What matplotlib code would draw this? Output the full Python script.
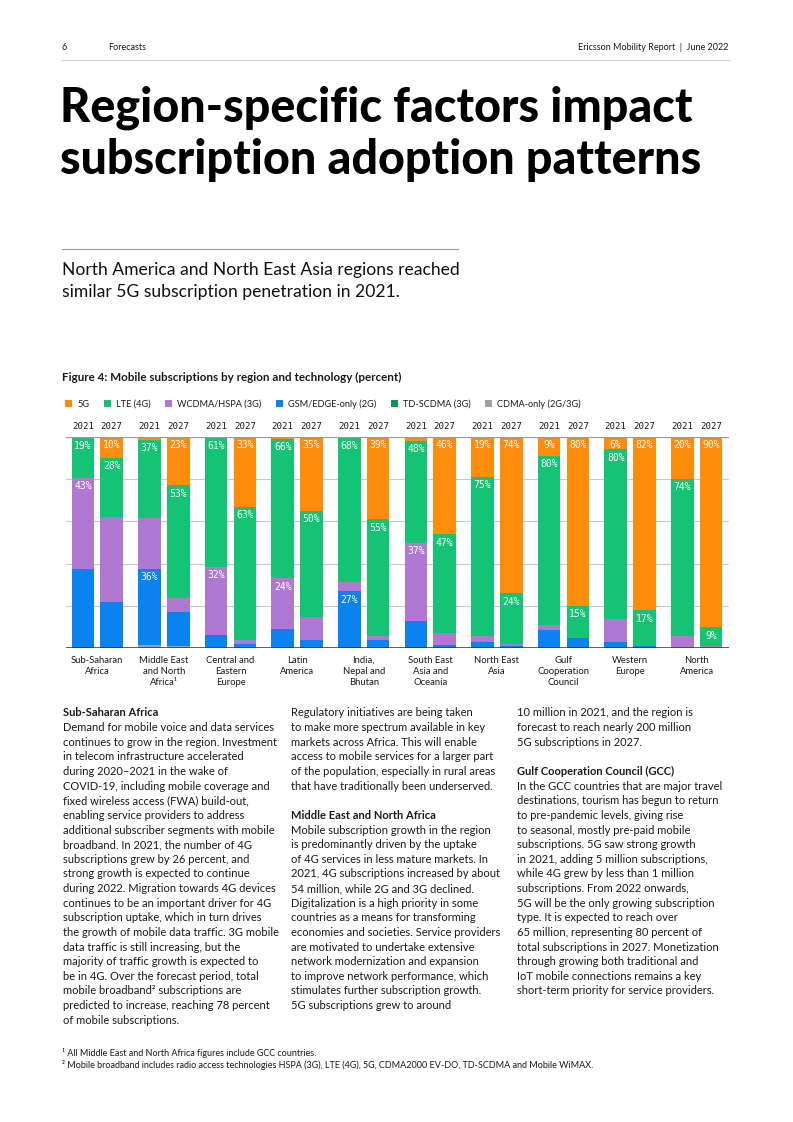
import matplotlib
matplotlib.use("Agg")
import matplotlib.pyplot as plt
from matplotlib.transforms import blended_transform_factory
import numpy as np

# ---------------- data ----------------
regions = ["Sub-Saharan\nAfrica", "Middle East\nand North\nAfrica¹", "Central and\nEastern\nEurope",
           "Latin\nAmerica", "India,\nNepal and\nBhutan", "South East\nAsia and\nOceania",
           "North East\nAsia", "Gulf\nCooperation\nCouncil", "Western\nEurope", "North\nAmerica"]
years = ["2021", "2027"]
series = ["CDMA-only (2G/3G)", "GSM/EDGE-only (2G)", "WCDMA/HSPA (3G)", "TD-SCDMA (3G)", "LTE (4G)", "5G"]
legend_order = ["5G", "LTE (4G)", "WCDMA/HSPA (3G)", "GSM/EDGE-only (2G)", "TD-SCDMA (3G)", "CDMA-only (2G/3G)"]
colors = {"5G": "#FF8C0A", "LTE (4G)": "#14C373", "WCDMA/HSPA (3G)": "#AF78D2",
          "GSM/EDGE-only (2G)": "#0A82F0", "TD-SCDMA (3G)": "#0A9650", "CDMA-only (2G/3G)": "#A0A0A0"}

# percent values, bars ordered region by region: 2021, 2027
cdma  = [0, 0,   1.5, 1,   0.5, 0,  0, 0,   0, 0,    0, 0,    0, 0,   0, 0,    0, 0,   0, 0.5]
gsm   = [37.5, 22, 36, 16,  6, 2,   9, 4,   27, 4,   13, 1.5, 3, 1,   8.5, 5,  3, 1,   0, 0]
wcdma = [43, 40, 24, 7,    32, 2,   24, 11, 4.5, 2,  37, 5.5, 3, 1,   2.5, 0,  11, 0,  6, 0.5]
tdscdma = [0, 0, 0, 0,     0, 0,    0, 0,   0, 0,    0, 0,    0, 0,   0, 0,    0, 0,   0, 0]
lte   = [19, 28, 37, 53,   61, 63,  66, 50, 68, 55,  48, 47,  75, 24, 80, 15,  80, 17, 74, 9]
fiveg = [0.5, 10, 1.5, 23, 0.5, 33, 1, 35,  0.5, 39, 2, 46,   19, 74, 9, 80,   6, 82,  20, 90]
values = {"CDMA-only (2G/3G)": cdma, "GSM/EDGE-only (2G)": gsm, "WCDMA/HSPA (3G)": wcdma,
          "TD-SCDMA (3G)": tdscdma, "LTE (4G)": lte, "5G": fiveg}

# which segments carry a value label (bar index, series)
labelled = [(0, "LTE (4G)"), (0, "WCDMA/HSPA (3G)"), (1, "5G"), (1, "LTE (4G)"),
            (2, "LTE (4G)"), (2, "GSM/EDGE-only (2G)"), (3, "5G"), (3, "LTE (4G)"),
            (4, "LTE (4G)"), (4, "WCDMA/HSPA (3G)"), (5, "5G"), (5, "LTE (4G)"),
            (6, "LTE (4G)"), (6, "WCDMA/HSPA (3G)"), (7, "5G"), (7, "LTE (4G)"),
            (8, "LTE (4G)"), (8, "GSM/EDGE-only (2G)"), (9, "5G"), (9, "LTE (4G)"),
            (10, "LTE (4G)"), (10, "WCDMA/HSPA (3G)"), (11, "5G"), (11, "LTE (4G)"),
            (12, "5G"), (12, "LTE (4G)"), (13, "5G"), (13, "LTE (4G)"),
            (14, "5G"), (14, "LTE (4G)"), (15, "5G"), (15, "LTE (4G)"),
            (16, "5G"), (16, "LTE (4G)"), (17, "5G"), (17, "LTE (4G)"),
            (18, "5G"), (18, "LTE (4G)"), (19, "5G"), (19, "LTE (4G)")]

# ---------------- page text ----------------
title_lines = ["Region-specific factors impact", "subscription adoption patterns"]
subtitle_lines = ["North America and North East Asia regions reached",
                  "similar 5G subscription penetration in 2021."]
fig_title = "Figure 4: Mobile subscriptions by region and technology (percent)"
B = "__bold__"
col1 = [B + "Sub-Saharan Africa",
        "Demand for mobile voice and data services",
        "continues to grow in the region. Investment",
        "in telecom infrastructure accelerated",
        "during 2020–2021 in the wake of",
        "COVID-19, including mobile coverage and",
        "fixed wireless access (FWA) build-out,",
        "enabling service providers to address",
        "additional subscriber segments with mobile",
        "broadband. In 2021, the number of 4G",
        "subscriptions grew by 26 percent, and",
        "strong growth is expected to continue",
        "during 2022. Migration towards 4G devices",
        "continues to be an important driver for 4G",
        "subscription uptake, which in turn drives",
        "the growth of mobile data traffic. 3G mobile",
        "data traffic is still increasing, but the",
        "majority of traffic growth is expected to",
        "be in 4G. Over the forecast period, total",
        "mobile broadband² subscriptions are",
        "predicted to increase, reaching 78 percent",
        "of mobile subscriptions."]
col2 = ["Regulatory initiatives are being taken",
        "to make more spectrum available in key",
        "markets across Africa. This will enable",
        "access to mobile services for a larger part",
        "of the population, especially in rural areas",
        "that have traditionally been underserved.",
        "",
        B + "Middle East and North Africa",
        "Mobile subscription growth in the region",
        "is predominantly driven by the uptake",
        "of 4G services in less mature markets. In",
        "2021, 4G subscriptions increased by about",
        "54 million, while 2G and 3G declined.",
        "Digitalization is a high priority in some",
        "countries as a means for transforming",
        "economies and societies. Service providers",
        "are motivated to undertake extensive",
        "network modernization and expansion",
        "to improve network performance, which",
        "stimulates further subscription growth.",
        "5G subscriptions grew to around"]
col3 = ["10 million in 2021, and the region is",
        "forecast to reach nearly 200 million",
        "5G subscriptions in 2027.",
        "",
        B + "Gulf Cooperation Council (GCC)",
        "In the GCC countries that are major travel",
        "destinations, tourism has begun to return",
        "to pre-pandemic levels, giving rise",
        "to seasonal, mostly pre-paid mobile",
        "subscriptions. 5G saw strong growth",
        "in 2021, adding 5 million subscriptions,",
        "while 4G grew by less than 1 million",
        "subscriptions. From 2022 onwards,",
        "5G will be the only growing subscription",
        "type. It is expected to reach over",
        "65 million, representing 80 percent of",
        "total subscriptions in 2027. Monetization",
        "through growing both traditional and",
        "IoT mobile connections remains a key",
        "short-term priority for service providers."]
footnotes = ["¹ All Middle East and North Africa figures include GCC countries.",
             "² Mobile broadband includes radio access technologies HSPA (3G), LTE (4G), 5G, CDMA2000 EV-DO, TD-SCDMA and Mobile WiMAX."]

# ---------------- figure ----------------
W, H = 793, 1122
plt.rcParams['font.family'] = ['Lato', 'DejaVu Sans']
fig = plt.figure(figsize=(W / 100, H / 100), dpi=100)
renderer = fig.canvas.get_renderer()
TXT = "#1a1a1a"

def fx(px):
    return px / W

def fy(py):
    return 1 - py / H

def ftext(x, y, s, **kw):
    kw.setdefault("color", TXT)
    return fig.text(fx(x), fy(y), s, **kw)

def fit(t, target):
    w = t.get_window_extent(renderer).width
    t.set_fontsize(t.get_fontsize() * target / w)
    return t.get_fontsize()

# header
ftext(62, 48, "6", fontsize=6.5, va="center")
ftext(108, 48, "Forecasts", fontsize=6.5, va="center")
ftext(729, 48, "Ericsson Mobility Report  |  June 2022", fontsize=6.5, va="center", ha="right")
fig.add_artist(plt.Line2D([fx(62), fx(729)], [fy(60), fy(60)], color="#cfcfcf", lw=0.8))

# title
t1 = ftext(60, 122, title_lines[0], fontsize=36, fontweight="black", color="#000000", va="baseline")
tsize = fit(t1, 633)
ftext(60, 174, title_lines[1], fontsize=tsize, fontweight="black", color="#000000", va="baseline")

fig.add_artist(plt.Line2D([fx(62), fx(458)], [fy(249), fy(249)], color="#9a9a9a", lw=0.8))
s1 = ftext(62, 275, subtitle_lines[0], fontsize=13, va="baseline", color="#111111")
ssize = fit(s1, 396)
ftext(62, 297, subtitle_lines[1], fontsize=ssize, va="baseline", color="#111111")

ft = ftext(62, 377, fig_title, fontsize=8, fontweight="bold", va="center")
fit(ft, 341)

# body text
ref = ftext(0, 0, "additional subscriber segments with mobile", fontsize=9)
bsize = fit(ref, 212)
ref.remove()
for x0, col in [(63, col1), (291, col2), (517, col3)]:
    for i, line in enumerate(col):
        if not line:
            continue
        bold = line.startswith(B)
        ftext(x0, 716.5 + i * 14.63, line.replace(B, ""), fontsize=bsize,
              fontweight="bold" if bold else "normal", va="baseline")
fn = ftext(62, 1068, footnotes[1], fontsize=6.5, va="baseline")
fnsize = fit(fn, 528)
ftext(62, 1055.5, footnotes[0], fontsize=fnsize, va="baseline")

# ---------------- chart ----------------
left, right, top, bottom = 66, 729, 436.7, 648.3
ax = fig.add_axes([fx(left), fy(bottom), fx(right - left), (bottom - top) / H])
n = len(regions)
centers = np.arange(n)
off, bw = 0.216, 0.338
xs = np.ravel(np.column_stack([centers - off, centers + off]))
base = np.zeros(len(xs))
tops = {}
handles = {}
for s in series:
    v = np.array(values[s], dtype=float)
    bc = ax.bar(xs, v, bw, bottom=base, color=colors[s], edgecolor="none", zorder=3)
    handles[s] = bc
    tops[s] = base + v
    base = base + v

mono = ["DejaVu Sans Mono"]
for bi, s in labelled:
    v = values[s][bi]
    ax.annotate(f"{round(v)}%", (xs[bi], tops[s][bi]), xytext=(0, -2.5), textcoords="offset points",
                ha="center", va="top", color="white", fontsize=7.0, family=mono, zorder=5)

ax.set_xlim(-0.47, n - 1 + 0.485)
ax.set_ylim(0, 100)
for g in [20, 40, 60, 80]:
    ax.axhline(g, color="#c8c8c8", lw=0.8, zorder=1)
ax.axhline(100, color="#9a9a9a", lw=0.9, zorder=4)
ax.axhline(0, color="#333333", lw=1.1, zorder=4)
for sp in ax.spines.values():
    sp.set_visible(False)
ax.set_xticks([])
ax.set_yticks([])
ax.patch.set_alpha(0)

trans = blended_transform_factory(ax.transData, ax.transAxes)
for i, x in enumerate(xs):
    ax.text(x, 1.046, years[i % 2], transform=trans, ha="center", va="center",
            fontsize=6.6, family=mono, color=TXT)
for i, r in enumerate(regions):
    ax.text(centers[i], -0.035, r, transform=trans, ha="center", va="top",
            fontsize=6.8, color=TXT, linespacing=1.3)

leg = fig.legend([handles[s] for s in legend_order], legend_order, loc="center left",
                 bbox_to_anchor=(fx(57), fy(404)), ncol=6, frameon=False, fontsize=6.6,
                 handlelength=0.75, handleheight=0.75, handletextpad=0.6, columnspacing=1.55,
                 labelcolor=TXT)

fig.savefig("out.png", dpi=100)
